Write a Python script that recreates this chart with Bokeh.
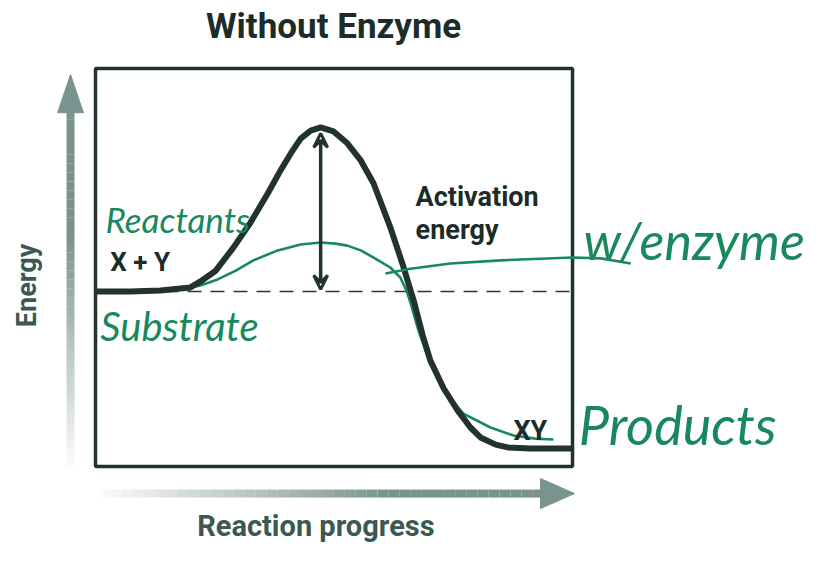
import numpy as np
from bokeh.plotting import figure
from bokeh.models import Range1d, Arrow, VeeHead
from bokeh.core.properties import value
from bokeh.embed import file_html
from bokeh.resources import INLINE

# ---- data (reaction progress 0..10, energy 0..10) ----
uncat_x = [0, 0.73, 1.36, 1.99, 2.20, 2.52, 2.89, 3.25, 3.61, 3.88, 4.09, 4.30, 4.51, 4.72,
           4.99, 5.28, 5.56, 5.83, 6.18, 6.46, 6.67, 6.86, 7.02, 7.30, 7.59, 7.86, 8.07,
           8.39, 8.64, 9.12, 10.0]
uncat_y = [4.40, 4.40, 4.42, 4.50, 4.65, 4.92, 5.50, 6.13, 6.86, 7.44, 7.86, 8.24, 8.44, 8.52,
           8.42, 8.12, 7.69, 7.11, 6.01, 5.00, 4.17, 3.29, 2.66, 1.96, 1.41, 0.98, 0.73,
           0.55, 0.48, 0.45, 0.45]

enz_x = [1.89, 2.20, 2.56, 2.94, 3.31, 3.82, 4.30, 4.72, 5.03, 5.28, 5.56, 5.83, 6.18, 6.39,
         6.52, 6.62, 6.77, 6.98, 7.30, 7.71, 8.28, 8.76, 9.22, 9.60]
enz_y = [4.47, 4.55, 4.70, 4.92, 5.18, 5.43, 5.58, 5.63, 5.60, 5.55, 5.43, 5.25, 5.00, 4.75,
         4.42, 4.05, 3.42, 2.71, 1.91, 1.33, 0.98, 0.78, 0.70, 0.68]

enz2_x = [6.08, 6.60, 7.44, 8.49, 10.0, 10.59, 11.22]
enz2_y = [4.85, 4.97, 5.10, 5.18, 5.25, 5.23, 5.10]

reactant_level = 4.40
peak_x = 4.72
peak_y = 8.37

DARK = "#22332e"
GREEN = "#17895c"
GREY = "#7a938e"

p = figure(width=804, height=545, output_backend="svg", toolbar_location=None,
           x_range=Range1d(-1.992, 14.863), y_range=Range1d(-1.985, 11.709),
           min_border=0, min_border_left=0, min_border_right=0, min_border_top=0,
           min_border_bottom=0)
p.axis.visible = False
p.grid.visible = False
p.outline_line_color = None
p.background_fill_color = "white"

# axis arrows with fading shafts
def shaft(x0, y0, x1, y1, n=40):
    t = np.linspace(0, 1, n + 1)
    xs = x0 + (x1 - x0) * t
    ys = y0 + (y1 - y0) * t
    alpha = np.clip(0.05 + t[:-1] * 1.5, 0, 1)
    p.segment(xs[:-1], ys[:-1], xs[1:], ys[1:], line_width=8, line_color=GREY,
              line_alpha=alpha, line_cap="butt")

ax_x = -0.524
shaft(ax_x, 0.0, ax_x, 8.95)
p.patch([ax_x - 0.27, ax_x + 0.27, ax_x], [8.89, 8.89, 9.85], fill_color=GREY, line_color=GREY)
ax_y = -0.68
shaft(0.1, ax_y, 9.40, ax_y)
p.patch([9.33, 9.33, 10.04], [ax_y - 0.377, ax_y + 0.377, ax_y], fill_color=GREY, line_color=GREY)

# box
p.quad(left=[0], right=[10], bottom=[0], top=[10], fill_color=None, line_color=DARK, line_width=3.5)

# dashed reactant level
p.line([0, 10], [reactant_level, reactant_level], line_color="#333", line_width=1.5, line_dash="14 9")

# curves
p.line(enz_x, enz_y, line_color=GREEN, line_width=2.6)
p.line(uncat_x, uncat_y, line_color=DARK, line_width=6, line_join="round")
p.line(enz2_x, enz2_y, line_color=GREEN, line_width=2.6)

# activation energy arrow
p.add_layout(Arrow(x_start=peak_x, y_start=reactant_level + 0.05, x_end=peak_x, y_end=peak_y,
                   line_width=3.5, line_color=DARK,
                   start=VeeHead(size=14, line_width=3, line_color=DARK, fill_color=None),
                   end=VeeHead(size=14, line_width=3, line_color=DARK, fill_color=None)))

def txt(x, y, s, size, color, style="bold", font="Roboto", align="left", angle=0):
    p.text([x], [y], text=[s], text_font=value(font), text_font_size=f"{size}px",
           text_font_style=style, text_color=color, text_align=align,
           text_baseline="middle", angle=angle)

txt(4.99, 11.05, "Without Enzyme", 35, "#1c2c28", align="center")
txt(-1.43, 4.55, "Energy", 27, "#3c5852", align="center", angle=np.pi / 2)
txt(4.62, -1.50, "Reaction progress", 29, "#3c5852", align="center")
txt(6.71, 6.76, "Activation", 27, "#1c2c28")
txt(6.71, 5.93, "energy", 27, "#1c2c28")
txt(0.31, 5.13, "X  +  Y", 26, "#1c2c28")
txt(8.76, 0.88, "XY", 27, "#1c2c28")

txt(0.21, 6.23, "Reactants", 35, GREEN, style="italic", font="Lato")
txt(0.10, 3.54, "Substrate", 40, GREEN, style="italic", font="Lato")
txt(10.23, 5.68, "w/enzyme", 52, GREEN, style="italic", font="Lato")
txt(10.13, 1.06, "Products", 54, GREEN, style="italic", font="Lato")

open("out.html", "w").write(file_html(p, INLINE))
